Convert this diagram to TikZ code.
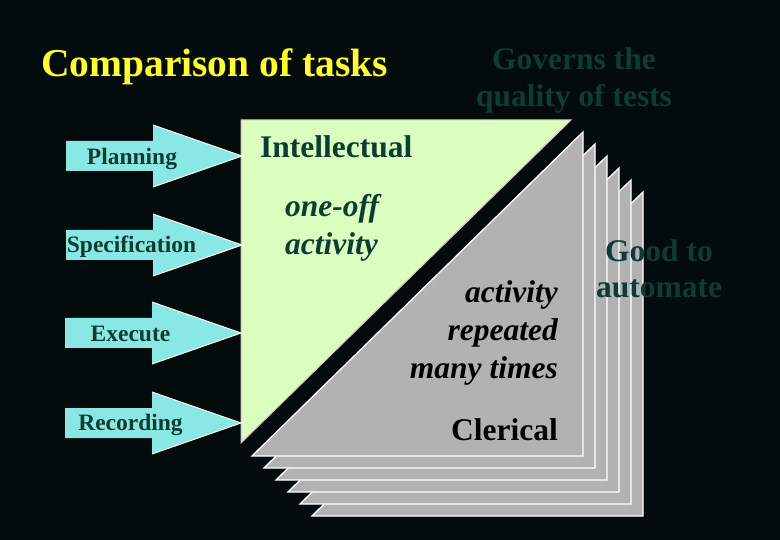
\documentclass[tikz,border=0pt]{standalone}
\usepackage{fontspec}
\setmainfont{Liberation Serif}
\definecolor{bgc}{RGB}{3,11,13}
\definecolor{ttl}{RGB}{255,255,51}
\definecolor{tealtxt}{RGB}{12,60,52}
\definecolor{lime}{RGB}{218,255,190}
\definecolor{pagegrey}{RGB}{178,178,178}
\definecolor{cyarrow}{RGB}{138,232,228}
\definecolor{pinkline}{RGB}{224,190,200}
\tikzset{
  bigarrow/.pic={
    \fill[cyarrow] (0,-15) -- (87,-15) -- (87,-31) -- (176,0) -- (87,31) -- (87,15) -- (0,15) -- cycle;
    \draw[white, line width=1pt] (87,-31) -- (176,0) -- (87,31);
  },
  arrowlbl/.style={text=tealtxt, font=\bfseries\fontsize{23.5}{28}\selectfont, anchor=base, inner sep=0pt},
  bigtxt/.style={font=\bfseries\fontsize{31.5}{38}\selectfont, inner sep=0pt},
  bigital/.style={font=\bfseries\itshape\fontsize{31.5}{38}\selectfont, inner sep=0pt},
  pageedge/.style={white, line width=1.3pt, line join=miter},
}
\begin{document}
\begin{tikzpicture}[x=1pt,y=-1pt]
\fill[bgc] (0,0) rectangle (780,540);
\useasboundingbox (0,0) rectangle (780,540);

% green triangle
\filldraw[fill=lime, draw=pinkline, line width=1pt] (241,120) -- (571,120) -- (241,443) -- cycle;

% stacked grey pages
\foreach \k in {5,4,3,2,1,0}{
  \fill[pagegrey] ({252+12*\k},{456+12*\k}) -- ({583+12*\k},{132+12*\k}) -- ({583+12*\k},{456+12*\k}) -- cycle;
  \draw[pageedge] ({252+12*\k},{456+12*\k}) -- ({583+12*\k},{132+12*\k}) -- ({583+12*\k},{456+12*\k}) -- cycle;
}

% arrows
\pic (a1) at (66,156) {bigarrow};
\pic (a2) at (66,245) {bigarrow};
\pic (a3) at (65,333) {bigarrow};
\pic (a4) at (65,423) {bigarrow};

\node[arrowlbl] (l1) at (132,165) {Planning};
\node[arrowlbl] (l2) at (131.5,253) {Specification};
\node[arrowlbl] (l3) at (130.5,342) {Execute};
\node[arrowlbl] (l4) at (130.5,431) {Recording};

% title
\node[text=ttl, font=\bfseries\fontsize{39.5}{46}\selectfont, anchor=base west, inner sep=0pt] (title) at (41,77) {Comparison of tasks};

% texts
\node[bigtxt, text=tealtxt, anchor=base] (gov1) at (574,70) {Governs the};
\node[bigtxt, text=tealtxt, anchor=base] (gov2) at (574,107) {quality of tests};

\node[bigtxt, text=tealtxt, anchor=base west] (intel) at (260,158) {Intellectual};
\node[bigital, text=tealtxt, anchor=base west] (one1) at (285,217) {one-off};
\node[bigital, text=tealtxt, anchor=base west] (one2) at (285,255) {activity};

\node[bigital, text=black, anchor=base east] (rep1) at (558,303) {activity};
\node[bigital, text=black, anchor=base east] (rep2) at (558,341) {repeated};
\node[bigital, text=black, anchor=base east] (rep3) at (558,378) {many times};
\node[bigtxt, text=black, anchor=base east] (cler) at (558,440) {Clerical};

\node[bigtxt, text=tealtxt, anchor=base] (good1) at (659,262) {Good to};
\node[bigtxt, text=tealtxt, anchor=base] (good2) at (659,298) {automate};
\end{tikzpicture}
\end{document}
